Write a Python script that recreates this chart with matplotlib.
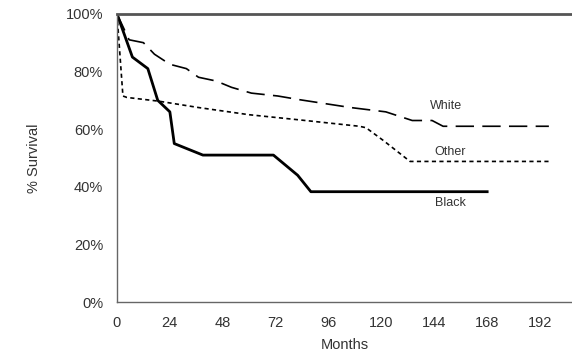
import numpy as np
import matplotlib.pyplot as plt

plt.rcParams['font.family'] = ['Liberation Sans', 'DejaVu Sans']

black_m = [0, 7, 14, 18.5, 24, 26, 39, 71, 82, 88, 168]
black_s = [100, 85, 81, 70, 66, 55, 51, 51, 44, 38.3, 38.3]

white_m = [0, 5.5, 12, 17, 24, 31.5, 37, 45, 52, 61, 73, 83, 106, 122, 130, 134, 143, 148, 196]
white_s = [100, 91, 90, 86, 82.5, 81, 78, 76.7, 74.5, 72.5, 71.5, 70.2, 67.5, 66, 64, 63, 63, 61, 61]

other_m = [0, 2.7, 4.5, 19, 37, 60, 83, 110, 113, 121, 133, 196]
other_s = [100, 71.5, 71, 69.7, 67.5, 65, 63.2, 61, 60.5, 56, 48.8, 48.8]

ticks_m = [0, 24, 48, 72, 96, 120, 144, 168, 192]
ticks_s = [0, 20, 40, 60, 80, 100]

fig = plt.figure(figsize=(5.72, 3.55), dpi=100)
ax = fig.add_axes([0.2045, 0.149, 0.7955, 0.812])

ax.plot(white_m, white_s, color='black', lw=1.2, dashes=(11, 5))
ax.plot(other_m, other_s, color='black', lw=1.2, dashes=(2.5, 2))
ax.plot(black_m, black_s, color='black', lw=2.0)

ax.set_xlim(0, 206.5)
ax.set_ylim(0, 100)
ax.set_xticks(ticks_m)
ax.set_yticks(ticks_s)
ax.set_yticklabels([f"{v}%" for v in ticks_s])
ax.tick_params(length=0, labelsize=10.5, colors='#333333')
ax.tick_params(axis='x', pad=10)
ax.tick_params(axis='y', pad=10)

for s in ['left', 'bottom']:
    ax.spines[s].set_color('#666666')
    ax.spines[s].set_linewidth(1.0)
ax.spines['top'].set_color('#555555')
ax.spines['top'].set_linewidth(2.0)
ax.spines['right'].set_visible(False)

ax.set_xlabel("Months", fontsize=10.5, color='#333333', labelpad=6)
ax.set_ylabel("% Survival", fontsize=10.5, color='#333333', labelpad=18)

ax.text(142, 68, "White", fontsize=9, color='#333333', ha='left', va='center')
ax.text(144, 52, "Other", fontsize=9, color='#333333', ha='left', va='center')
ax.text(144.5, 34.5, "Black", fontsize=9, color='#333333', ha='left', va='center')

fig.savefig("out.png", dpi=100)
